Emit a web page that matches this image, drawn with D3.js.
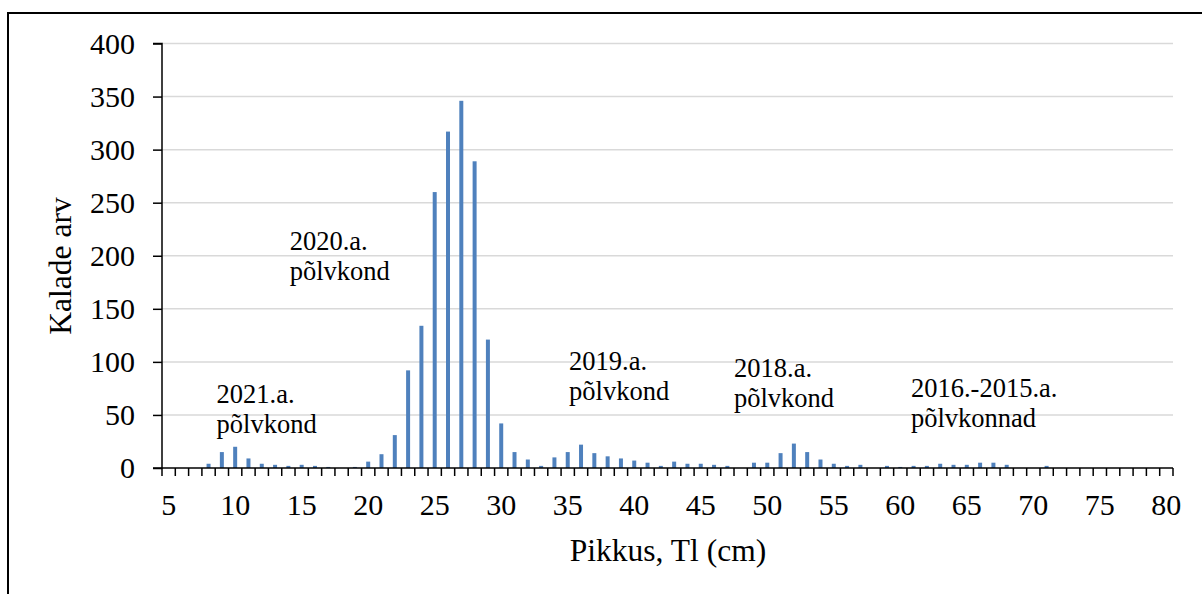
<!DOCTYPE html>
<html><head><meta charset="utf-8">
<script src="https://cdn.jsdelivr.net/npm/d3@7"></script>
<style>
html,body{margin:0;padding:0;background:#fff;}
svg{display:block;}
</style></head>
<body>
<svg id="chart" width="1202" height="594"></svg>
<script>
const categories = d3.range(5, 81);
const counts = [0,0,0,4,15,20,9,4,3,2,3,2,1,0,1,6,13,31,92,134,260,317,346,289,121,42,15,8,2,10,15,22,14,11,9,7,5,2,6,4,4,3,2,0,5,5,14,23,15,8,4,2,3,0,2,1,2,2,4,3,3,5,5,3,0,0,2,0,0,0,0,0,0,0,0,0];
const yTicks = [0,50,100,150,200,250,300,350,400];
const xLabels = [5,10,15,20,25,30,35,40,45,50,55,60,65,70,75,80];
const annotations = [
  {lines:["2021.a.","põlvkond"], cat:8.6, val:61},
  {lines:["2020.a.","põlvkond"], cat:14.1, val:205},
  {lines:["2019.a.","põlvkond"], cat:35.1, val:92},
  {lines:["2018.a.","põlvkond"], cat:47.5, val:86},
  {lines:["2016.-2015.a.","põlvkonnad"], cat:60.8, val:67}
];

const svg = d3.select("#chart");
const L = 162, R = 1173, T = 43.5, B = 468;
const FONT = '"Liberation Serif", "Times New Roman", Tinos, serif';

svg.append("rect").attr("x",8).attr("y",13).attr("width",1210).attr("height",600)
  .attr("fill","none").attr("stroke","#000").attr("stroke-width",2);

const x = d3.scaleBand().domain(categories).range([L,R]).paddingInner(0.7).paddingOuter(0.35);
const y = d3.scaleLinear().domain([0,400]).range([B,T]);
const step = x.step();

svg.append("g").selectAll("line").data(yTicks.filter(d=>d>0)).join("line")
  .attr("x1",L).attr("x2",R).attr("y1",d=>y(d)).attr("y2",d=>y(d))
  .attr("stroke","#d9d9d9").attr("stroke-width",1.5);

svg.append("g").selectAll("rect").data(categories.map((c,i)=>({c,v:counts[i]}))).join("rect")
  .attr("x",d=>x(d.c)).attr("width",x.bandwidth())
  .attr("y",d=>y(d.v)).attr("height",d=>B-y(d.v))
  .attr("fill","#4f81bd");

const yAxis = d3.axisLeft(y).tickValues(yTicks).tickSize(9).tickPadding(18);
const gy = svg.append("g").attr("transform",`translate(${L},0)`).call(yAxis);
gy.select(".domain").attr("stroke","#000").attr("stroke-width",1.5).attr("d",`M-9,${T}H0V${B}H-9`);
gy.selectAll(".tick line").attr("stroke","#000").attr("stroke-width",1.5);

const xAxis = d3.axisBottom(x).tickValues(xLabels).tickSize(0).tickPadding(26);
const gx = svg.append("g").attr("transform",`translate(0,${B})`).call(xAxis);
gx.select(".domain").remove();
gx.append("line").attr("x1",L).attr("x2",R).attr("y1",0).attr("y2",0).attr("stroke","#000").attr("stroke-width",1.5);
const bounds = categories.map(c=>x(c) - (step - x.bandwidth())/2).concat([R]);
gx.append("g").selectAll("line").data(bounds).join("line")
  .attr("x1",d=>d).attr("x2",d=>d).attr("y1",0).attr("y2",8)
  .attr("stroke","#000").attr("stroke-width",1.5);

svg.append("text").attr("class","title").attr("transform","translate(71,266) rotate(-90)")
  .attr("text-anchor","middle").text("Kalade arv");
svg.append("text").attr("class","title").attr("x",668).attr("y",561).attr("text-anchor","middle")
  .text("Pikkus, Tl (cm)");

const xl = d3.scaleLinear().domain([4.5,80.5]).range([L,R]);
annotations.forEach(a=>{
  const t = svg.append("text").attr("class","ann")
    .attr("x", xl(a.cat)).attr("y", y(a.val));
  a.lines.forEach((ln,i)=>{
    t.append("tspan").attr("x", xl(a.cat)).attr("dy", i===0?0:30).text(ln);
  });
});

svg.selectAll("text")
  .style("font-family", FONT)
  .style("font-size", "30px")
  .style("fill", "#000");
svg.selectAll("text.title").style("font-size","31.5px");
svg.selectAll("text.ann").style("font-size","26.5px");
</script>
</body></html>
